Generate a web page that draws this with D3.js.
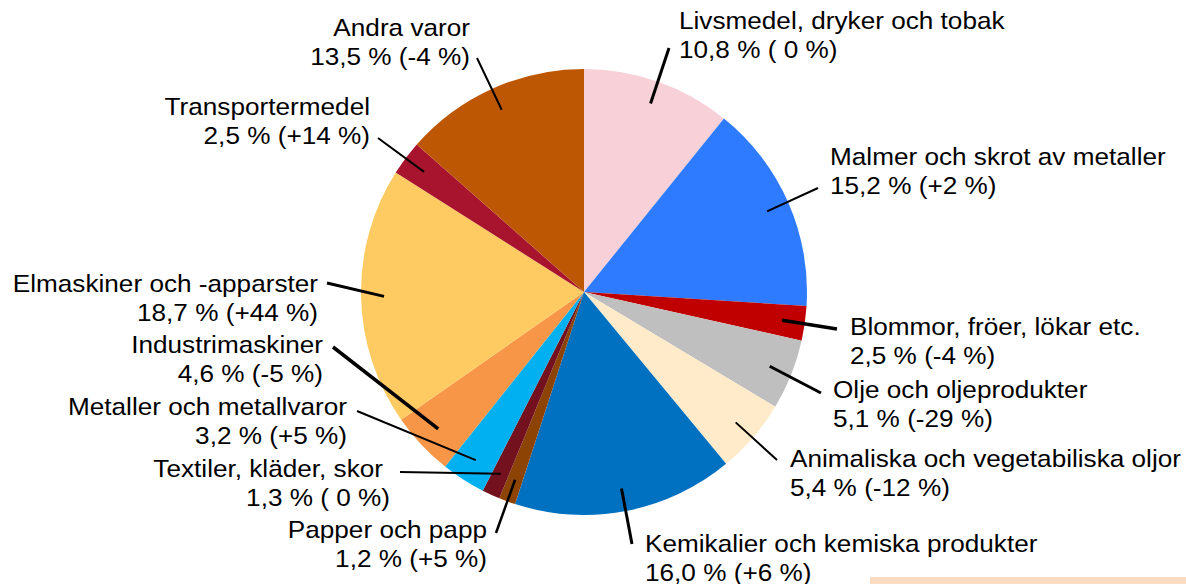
<!DOCTYPE html>
<html>
<head>
<meta charset="utf-8">
<script src="https://cdn.jsdelivr.net/npm/d3@7"></script>
<style>
  html, body { margin: 0; padding: 0; background: #fff; }
  svg { display: block; }
  text { font-family: "Liberation Sans", Arial, sans-serif; fill: #000; }
</style>
</head>
<body>
<svg id="chart" width="1186" height="584"></svg>
<script>
// Varugrupper: andel av total (%) och förändring (%)
const categories = [
  "Livsmedel, dryker och tobak",
  "Malmer och skrot av metaller",
  "Blommor, fröer, lökar etc.",
  "Olje och oljeprodukter",
  "Animaliska och vegetabiliska oljor",
  "Kemikalier och kemiska produkter",
  "Papper och papp",
  "Textiler, kläder, skor",
  "Metaller och metallvaror",
  "Industrimaskiner",
  "Elmaskiner och -apparster",
  "Transportermedel",
  "Andra varor"
];
const shares  = [10.8, 15.2, 2.5, 5.1, 5.4, 16.0, 1.2, 1.3, 3.2, 4.6, 18.7, 2.5, 13.5];
const changes = [0, 2, -4, -29, -12, 6, 5, 0, 5, -5, 44, 14, -4];

const colors = [
  "#F8D0D8", "#2F7BFF", "#C00000", "#BFBFBF", "#FFEBC9", "#0070C0", "#8C4304",
  "#74111F", "#00B0F0", "#F79646", "#FECB62", "#A8132E", "#BD5703"
];

// Etikettplacering: ankare, x, baslinje, slutpunkt för ledlinje, linjebredd
const labelLayout = [
  { anchor: "start", x: 679, y: 29,  end: [669, 48],  w: 3 },
  { anchor: "start", x: 830, y: 165, end: [818, 188], w: 2 },
  { anchor: "start", x: 850, y: 335, end: [837, 329], w: 3.5 },
  { anchor: "start", x: 833, y: 398, end: [821, 393], w: 3 },
  { anchor: "start", x: 790, y: 467, end: [777, 460], w: 2 },
  { anchor: "start", x: 645, y: 552, end: [632, 544], w: 3 },
  { anchor: "end",   x: 487, y: 538, end: [496, 533], w: 2.5 },
  { anchor: "end",   x: 383, y: 477, x2: 390, end: [400, 472], w: 2 },
  { anchor: "end",   x: 347, y: 415, end: [357, 411], w: 2 },
  { anchor: "end",   x: 323, y: 353, end: [333, 347], w: 3.5 },
  { anchor: "end",   x: 318, y: 292, end: [327, 283], w: 3 },
  { anchor: "end",   x: 370, y: 115, end: [378, 138], w: 2 },
  { anchor: "end",   x: 470, y: 36,  end: [477, 58],  w: 2 }
];

const fmt = v => v.toFixed(1).replace(".", ",");
const fmtChange = c => c === 0 ? "( 0 %)" : "(" + (c > 0 ? "+" : "") + c + " %)";

const svg = d3.select("#chart");
const cx = 584, cy = 292, R = 223, leaderR = 200;
const fontSize = 24, lineGap = 29, stretch = 1.09;

// Liten beige ruta nere till höger
svg.append("rect")
  .attr("x", 870).attr("y", 577).attr("width", 316).attr("height", 10)
  .attr("fill", "#FCDBC0");

const data = categories.map((name, i) => ({ name, share: shares[i], change: changes[i], color: colors[i], layout: labelLayout[i] }));

const pie = d3.pie().value(d => d.share).sort(null);
const arcs = pie(data);
const arc = d3.arc().innerRadius(0).outerRadius(R);
const leaderArc = d3.arc().innerRadius(leaderR).outerRadius(leaderR);

const g = svg.append("g").attr("transform", `translate(${cx},${cy})`);

g.selectAll("path.slice")
  .data(arcs)
  .join("path")
  .attr("class", "slice")
  .attr("d", arc)
  .attr("fill", d => d.data.color);

// Ledlinjer från sektorns mitt till etiketten
svg.selectAll("line.leader")
  .data(arcs)
  .join("line")
  .attr("class", "leader")
  .attr("x1", d => cx + leaderArc.centroid(d)[0])
  .attr("y1", d => cy + leaderArc.centroid(d)[1])
  .attr("x2", d => d.data.layout.end[0])
  .attr("y2", d => d.data.layout.end[1])
  .attr("stroke", "#000")
  .attr("stroke-width", d => d.data.layout.w);

// Etiketter i två rader
const labels = svg.selectAll("g.label")
  .data(data)
  .join("g")
  .attr("class", "label");

labels.append("text")
  .attr("transform", d => `translate(${d.layout.x},${d.layout.y}) scale(${stretch},1)`)
  .attr("text-anchor", d => d.layout.anchor)
  .attr("font-size", fontSize)
  .text(d => d.name);

labels.append("text")
  .attr("transform", d => `translate(${d.layout.x2 ?? d.layout.x},${d.layout.y + lineGap}) scale(${stretch},1)`)
  .attr("text-anchor", d => d.layout.anchor)
  .attr("font-size", fontSize)
  .text(d => `${fmt(d.share)} % ${fmtChange(d.change)}`);
</script>
</body>
</html>
